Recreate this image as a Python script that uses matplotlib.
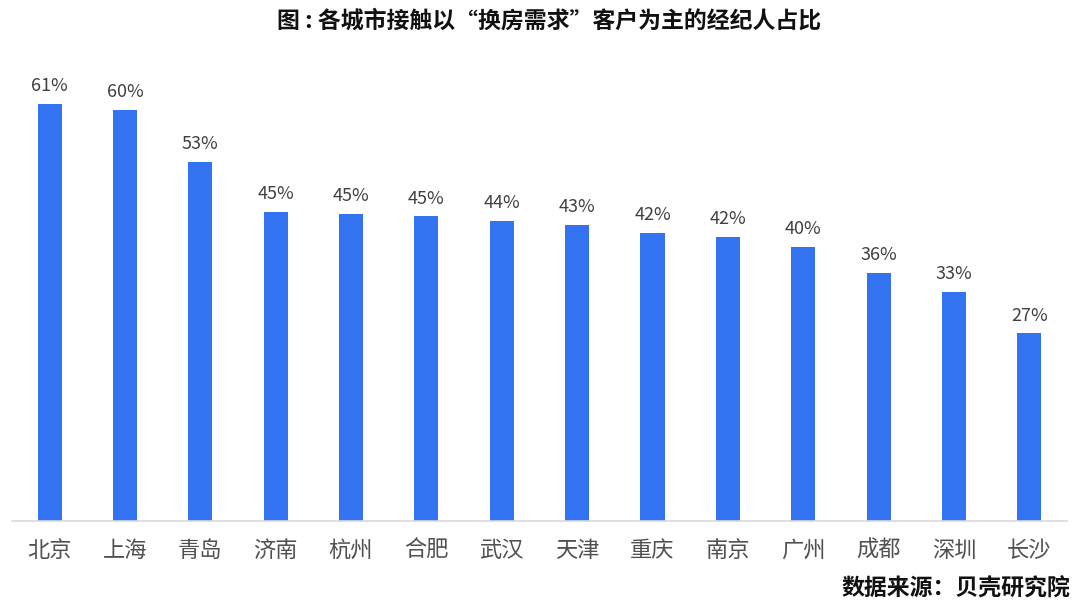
import matplotlib
matplotlib.use("Agg")
import matplotlib.pyplot as plt

plt.rcParams['font.family'] = ['Noto Sans CJK SC', 'DejaVu Sans']

cities = ["北京", "上海", "青岛", "济南", "杭州", "合肥", "武汉",
          "天津", "重庆", "南京", "广州", "成都", "深圳", "长沙"]
shares = [60.9, 60.1, 52.5, 45.2, 44.8, 44.5, 43.9,
          43.2, 42.1, 41.5, 40.1, 36.2, 33.4, 27.4]
labels = ["61%", "60%", "53%", "45%", "45%", "45%", "44%",
          "43%", "42%", "42%", "40%", "36%", "33%", "27%"]

fig = plt.figure(figsize=(10.8, 6.08), dpi=100)
ax = fig.add_axes([0.011, 0.1431, 0.977, 0.788])

x = range(len(cities))
bars = ax.bar(x, shares, width=0.32, color="#3373F2")
for bar, lab in zip(bars, labels):
    ax.text(bar.get_x() + bar.get_width() / 2, bar.get_height() + 1.3, lab,
            ha="center", va="bottom", fontsize=13, color="#404040")

ax.set_xlim(-0.5, len(cities) - 0.5)
ax.set_ylim(0, 70)
ax.set_xticks(list(x))
ax.set_xticklabels(cities, fontsize=16, color="#505050")
ax.tick_params(axis="x", length=0, pad=13)
ax.set_yticks([])
for side in ["top", "right", "left"]:
    ax.spines[side].set_visible(False)
ax.spines["bottom"].set_color("#d9d9d9")
ax.spines["bottom"].set_linewidth(1.2)

fig.text(0.508, 0.965, "图 : 各城市接触以“换房需求”客户为主的经纪人占比",
         ha="center", va="center", fontsize=16.5, fontweight="bold", color="#111111")
fig.text(0.991, 0.031, "数据来源：贝壳研究院",
         ha="right", va="center", fontsize=16.5, fontweight="bold", color="#111111")

fig.savefig("out.png", dpi=100)
